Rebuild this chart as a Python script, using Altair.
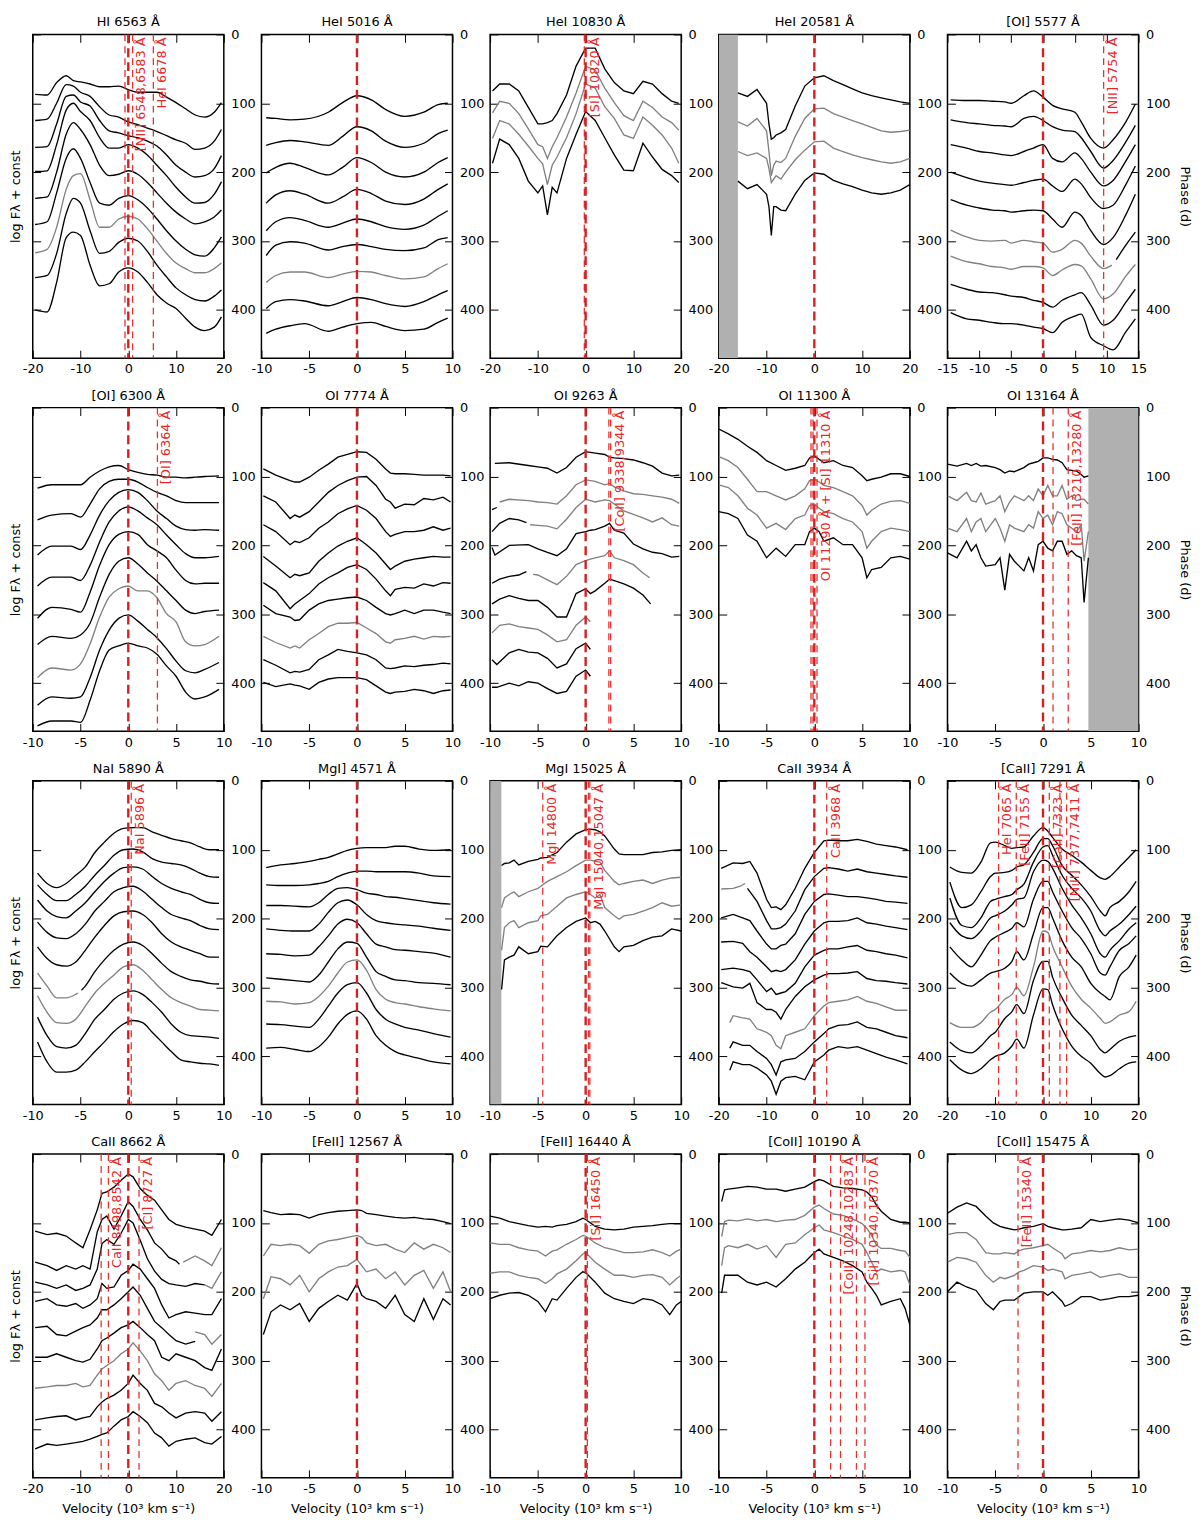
import altair as alt
import pandas as pd

K = "black"
G = "gray"
FONT = "DejaVu Sans"
MAIN_RED = "#d42020"
AUX_RED = "#e83030"
LAB_RED = "#e82828"
SHADE = "#b0b0b0"

TITLES = ["HI 6563 Å", "HeI 5016 Å", "HeI 10830 Å", "HeI 20581 Å", "[OI] 5577 Å",
          "[OI] 6300 Å", "OI 7774 Å", "OI 9263 Å", "OI 11300 Å", "OI 13164 Å",
          "NaI 5890 Å", "MgI] 4571 Å", "MgI 15025 Å", "CaII 3934 Å", "[CaII] 7291 Å",
          "CaII 8662 Å", "[FeII] 12567 Å", "[FeII] 16440 Å", "[CoII] 10190 Å", "[CoII] 15475 Å"]
XRANGES = [20, 10, 20, 20, 15, 10, 10, 10, 10, 10, 10, 10, 10, 20, 20, 20, 10, 10, 10, 10]
XTICKS = {20: [-20, -10, 0, 10, 20], 15: [-15, -10, -5, 0, 5, 10, 15], 10: [-10, -5, 0, 5, 10]}
PHASE_TICKS = [0, 100, 200, 300, 400]
AUX = [[-0.69, 0.91, 5.25], [], [-0.28], [], [9.52],
       [3.05], [], [2.43, 2.62], [-0.35, -0.14, 0.28], [1.05, 2.64],
       [0.31], [], [-4.49, 0.30, 0.44], [2.59], [-9.30, -5.60, 1.32, 3.54, 4.94],
       [-5.68, -4.16, 2.25], [], [0.18], [1.71, 2.74, 4.41, 5.30], [-2.62]]
LABEL_TEXT = [["[NII] 6548,6583 Å", "HeI 6678 Å"], [], ["[SI] 10820 Å"], [], ["[NII] 5754 Å"],
              ["[OI] 6364 Å"], [], ["[CoII] 9338,9344 Å"], ["OI 11290 Å + [SI] 11310 Å"], ["[FeII] 13210,13280 Å"],
              ["NaI 5896 Å"], [], ["MgI 14800 Å", "MgI 15040,15047 Å"], ["CaII 3968 Å"],
              ["HeI 7065 Å", "[FeII] 7155 Å", "[CaII] 7323 Å", "[NiII] 7377,7411 Å"],
              ["CaII 8498,8542 Å", "[CI] 8727 Å"], [], ["[SiI] 16450 Å"],
              ["[CoII] 10248,10283 Å", "[SiI] 10340,10370 Å"], ["[FeII] 15340 Å"]]
LABEL_X = [[0.91, 5.25], [], [0.0], [], [9.52], [3.05], [], [2.62], [0.28], [2.64],
           [0.31], [], [-4.49, 0.44], [2.59], [-9.30, -5.60, 1.32, 4.94],
           [-4.16, 2.25], [], [0.18], [2.74, 5.30], [-2.62]]
SHADES = {3: (-20, -16), 9: (4.75, 10), 12: (-10, -8.82)}
SMOOTH = {0, 1, 4, 5, 10, 11, 14}

# ---------------- spectra (phase units) ----------------
P01_x = [-19.5, -17, -15, -13, -11.5, -10, -8, -6, -4, -2, 0, 2, 4, 6, 8, 10, 12, 14, 16, 18, 19.5]
P01 = [(K, [87, 88, 70, 60, 67, 69, 72, 76, 76, 75, 80, 84, 84, 84, 91, 99, 108, 117, 120, 113, 99]),
       (K, [125, 123, 100, 73, 75, 84, 90, 105, 117, 120, 127, 131, 136, 141, 147, 153, 158, 167, 165, 155, 138]),
       (K, [164, 163, 130, 90, 88, 98, 104, 125, 140, 143, 147, 150, 155, 162, 175, 190, 200, 207, 205, 195, 176]),
       (K, [199, 198, 160, 110, 100, 112, 125, 150, 165, 165, 160, 165, 175, 190, 205, 222, 236, 245, 244, 232, 214]),
       (K, [238, 236, 200, 145, 128, 138, 160, 190, 205, 203, 198, 203, 215, 230, 245, 258, 268, 275, 272, 265, 255]),
       (K, [276, 272, 230, 180, 166, 180, 215, 245, 248, 238, 234, 240, 252, 268, 285, 300, 312, 320, 322, 310, 294]),
       (G, [317, 312, 280, 225, 205, 202, 240, 280, 280, 268, 264, 268, 282, 300, 318, 332, 340, 346, 346, 340, 332]),
       (K, [353, 350, 318, 260, 238, 245, 285, 318, 315, 302, 296, 300, 315, 335, 352, 368, 378, 385, 387, 380, 371]),
       (K, [400, 403, 360, 295, 287, 292, 335, 365, 362, 345, 339, 345, 360, 378, 390, 398, 412, 425, 430, 425, 410])]

P02_x = [-9.5, -8.5, -7, -5.5, -3, -1.5, 0, 1.5, 3, 5, 7, 8.5, 9.5]
P02 = [(K, [121, 122, 124, 123, 113, 99, 89, 95, 109, 119, 113, 102, 100]),
       (K, [161, 157, 154, 156, 161, 148, 134, 140, 155, 164, 158, 144, 139]),
       (K, [201, 193, 187, 193, 204, 193, 179, 186, 200, 207, 200, 186, 179]),
       (K, [245, 233, 227, 232, 245, 236, 225, 231, 242, 247, 239, 225, 217]),
       (K, [285, 272, 266, 270, 280, 274, 268, 272, 279, 283, 277, 264, 256]),
       (K, [321, 306, 301, 303, 313, 308, 305, 308, 312, 314, 310, 298, 295]),
       (G, [360, 350, 345, 345, 353, 348, 344, 345, 350, 355, 352, 340, 333]),
       (K, [398, 388, 385, 387, 394, 388, 382, 385, 391, 395, 388, 378, 372]),
       (K, [434, 428, 423, 420, 431, 425, 420, 418, 424, 430, 428, 418, 412])]

P03_x = [-19.5, -18, -16, -14, -12, -10, -9, -8, -7, -6, -4, -2, 0, 2, 4, 6, 8, 10, 12, 14, 16, 18, 19.5]
P03 = [(K, [82, 72, 72, 82, 106, 130, 130, 128, 125, 115, 88, 46, 20, 20, 50, 70, 82, 86, 68, 72, 86, 97, 100]),
       (G, [114, 97, 100, 115, 137, 160, 163, 180, 163, 150, 120, 85, 46, 52, 78, 99, 118, 125, 97, 106, 120, 128, 139]),
       (G, [151, 125, 130, 145, 162, 180, 188, 218, 190, 178, 150, 115, 72, 78, 105, 122, 146, 151, 120, 132, 146, 165, 187]),
       (K, [187, 152, 160, 180, 213, 230, 220, 262, 222, 230, 180, 145, 112, 125, 150, 175, 197, 198, 158, 178, 196, 205, 215])]

P04_x = [-16, -14, -12, -10, -9.5, -9, -8.5, -8, -7, -6, -4, -2, 0, 2, 4, 6, 8, 10, 12, 14, 16, 18, 20]
P04 = [(K, [85, 90, 80, 100, 130, 152, 150, 146, 143, 138, 104, 75, 63, 60, 67, 73, 79, 85, 89, 92, 95, 98, 100]),
       (G, [127, 133, 122, 140, 170, 205, 190, 184, 186, 180, 148, 122, 108, 107, 115, 120, 125, 130, 135, 140, 142, 141, 139]),
       (G, [170, 176, 172, 180, 195, 215, 210, 205, 210, 200, 182, 168, 156, 155, 165, 170, 175, 179, 182, 185, 187, 185, 180]),
       (K, [213, 224, 218, 232, 250, 292, 250, 250, 255, 256, 232, 212, 201, 203, 212, 217, 221, 226, 230, 232, 230, 226, 218])]

P05_x = [-14.5, -12, -10, -8, -6, -5, -3, -1.5, 0, 1.5, 3, 5, 6, 7.5, 9.5, 11, 13, 14.5]
P05 = [(K, [95, 96, 96, 97, 98, 100, 89, 82, 91, 103, 108, 113, 127, 151, 165, 153, 127, 101]),
       (K, [124, 128, 130, 132, 133, 134, 122, 119, 125, 134, 139, 141, 150, 170, 194, 183, 156, 132]),
       (K, [160, 165, 170, 172, 175, 176, 170, 165, 160, 180, 185, 172, 180, 200, 220, 212, 184, 160]),
       (K, [200, 208, 213, 216, 218, 219, 215, 212, 210, 220, 228, 210, 217, 237, 253, 248, 218, 191]),
       (K, [240, 248, 252, 255, 256, 258, 256, 255, 256, 268, 280, 258, 263, 285, 305, 295, 262, 232]),
       (G, [284, 294, 299, 300, 299, 303, 299, 301, 303, 316, 312, 299, 303, 322, 340, 335],
        [-14.5, -12, -10, -8, -6, -5, -3, -1.5, 0, 1.5, 3, 5, 6, 7.5, 9.5, 10.8]),
       (K, [327, 306, 287], [11.5, 13, 14.5]),
       (G, [322, 330, 333, 337, 339, 341, 337, 337, 339, 350, 342, 334, 336, 355, 384, 377, 351, 334]),
       (K, [363, 370, 374, 375, 378, 380, 382, 386, 389, 396, 386, 378, 375, 393, 422, 415, 389, 370]),
       (K, [404, 413, 415, 418, 420, 420, 422, 425, 427, 433, 418, 409, 406, 440, 452, 458, 432, 413])]

P06_x = [-9.5, -8, -6, -5, -4, -3, -2, -1, 0, 1, 2, 3, 4, 5, 6, 7, 8, 9.5]
P06 = [(K, [117, 112, 112, 112, 101, 92, 86, 84, 90, 94, 97, 98, 101, 101, 102, 101, 100, 99]),
       (K, [163, 156, 154, 159, 140, 118, 107, 104, 104, 108, 116, 123, 128, 135, 138, 138, 138, 138]),
       (K, [214, 201, 201, 206, 185, 156, 135, 123, 119, 123, 135, 150, 161, 172, 177, 178, 177, 178]),
       (K, [259, 246, 246, 251, 229, 195, 166, 150, 144, 150, 160, 170, 185, 199, 212, 218, 218, 216]),
       (K, [306, 290, 293, 297, 268, 229, 199, 184, 180, 184, 199, 208, 218, 236, 251, 256, 255, 255]),
       (K, [344, 332, 335, 330, 313, 275, 242, 223, 218, 227, 240, 252, 266, 280, 294, 299, 296, 294]),
       (G, [392, 378, 381, 372, 343, 304, 275, 263, 259, 266, 266, 276, 299, 311, 340, 346, 344, 332]),
       (K, [432, 420, 422, 420, 392, 352, 323, 306, 301, 310, 322, 334, 350, 368, 382, 385, 380, 370]),
       (K, [462, 455, 455, 457, 425, 382, 352, 346, 342, 346, 349, 358, 375, 390, 413, 423, 420, 409])]

P07_x = [-9.8, -8.5, -7, -6.5, -6, -5, -4, -3, -2, -1, 0, 1, 2, 3, 3.5, 4, 5, 6, 7, 8, 9, 9.8]
P07 = [(K, [89, 98, 106, 108, 108, 101, 91, 82, 72, 68, 64, 65, 75, 89, 95, 96, 96, 97, 98, 98, 98, 99]),
       (K, [128, 137, 161, 156, 159, 151, 137, 123, 113, 106, 101, 100, 113, 133, 137, 146, 140, 141, 132, 134, 130, 137]),
       (K, [170, 180, 199, 194, 196, 189, 175, 166, 154, 147, 142, 149, 161, 180, 187, 184, 180, 180, 178, 173, 178, 175]),
       (K, [216, 230, 247, 242, 244, 240, 223, 211, 201, 194, 189, 199, 211, 227, 235, 230, 223, 220, 218, 216, 217, 217]),
       (K, [254, 266, 292, 285, 280, 270, 256, 247, 240, 232, 228, 235, 249, 266, 273, 264, 261, 262, 256, 259, 254, 255]),
       (K, [287, 299, 304, 309, 308, 294, 285, 280, 278, 276, 275, 280, 290, 299, 301, 299, 294, 299, 294, 294, 297, 299]),
       (G, [332, 341, 349, 346, 349, 337, 328, 318, 313, 313, 312, 320, 328, 340, 342, 337, 335, 332, 336, 332, 333, 332]),
       (K, [366, 374, 385, 383, 384, 380, 366, 359, 351, 354, 356, 359, 366, 378, 379, 378, 375, 376, 374, 373, 371, 372]),
       (K, [399, 405, 401, 403, 404, 409, 399, 394, 392, 392, 392, 395, 404, 413, 415, 413, 412, 409, 411, 415, 411, 410])]

P08_x = [-9.5, -8, -6, -5, -4, -3, -2, -1, 0, 0.5, 1, 2, 2.5, 3, 4, 5, 6, 7, 8, 9, 9.8]
P08 = [(K, [81, 80, 84, 86, 88, 95, 87, 72, 64, 65, 66, 68, 72, 73, 74, 76, 80, 85, 95, 99, 98]),
       (K, [148, 145], [-9.8, -9.3]),
       (G, [137, 133, 135, 137, 138, 140, 128, 112, 105, 106, 107, 112, 110, 115, 121, 125, 126, 128, 130, 133, 139],
        [-9, -8, -6, -5, -4, -3, -2, -1, 0, 0.5, 1, 2, 2.5, 3, 4, 5, 6, 7, 8, 9, 9.8]),
       (K, [180, 168, 161, 163, 167], [-9.8, -9, -8, -7, -6.2]),
       (G, [170, 171, 172, 176, 162, 145, 133, 135, 137, 134, 135, 140, 150, 155, 160, 166, 160, 170, 172],
        [-5.8, -5, -4, -3, -2, -1, 0, 0.5, 1, 2, 2.5, 3, 4, 5, 6, 7, 8, 9, 9.8]),
       (K, [203, 214, 200, 199, 205, 210, 215, 205, 183, 180, 178, 177, 172, 168, 178, 182, 198, 205, 210, 212, 217, 216],
        [-9.8, -9.5, -8, -6, -5, -4, -3, -2, -1, 0, 0.5, 1, 2, 2.5, 3, 4, 5, 6, 7, 8, 9, 9.8]),
       (K, [255, 249, 245, 243, 238], [-9.8, -9, -8, -7, -6.2]),
       (G, [242, 243, 250, 257, 245, 228, 222, 220, 218, 215, 208, 218, 222, 228, 240, 247],
        [-5.5, -5, -4, -3, -2, -1, 0, 0.5, 1, 2, 2.5, 3, 4, 5, 6, 6.7]),
       (K, [285, 278, 273, 277, 280, 280, 290, 304, 304, 270, 263, 270, 266, 255, 249, 251, 256, 262, 272, 285],
        [-9.8, -9, -8, -7, -6, -5, -4, -3, -2, -1, 0, 0.5, 1, 2, 2.5, 3, 4, 5, 6, 6.8]),
       (G, [327, 316, 314, 318, 320, 322, 330, 340, 337, 316, 304, 311],
        [-9.8, -9, -8, -7, -6, -5, -4, -3, -2, -1, 0, 0.5]),
       (K, [366, 373, 356, 351, 355, 356, 364, 378, 372, 350, 342, 351],
        [-9.8, -9.3, -8, -7, -6, -5, -4, -3, -2, -1, 0, 0.5]),
       (K, [406, 406, 400, 404, 398, 400, 408, 415, 412, 390, 381, 390],
        [-9.8, -9.3, -8, -7, -6, -5, -4, -3, -2, -1, 0, 0.5])]

P09_x = [-10, -9, -8, -7, -6, -5, -4, -3, -2, -1, -0.5, 0, 0.5, 1, 2, 3, 4, 5, 5.5, 6, 7, 8, 9, 10]
P09 = [(K, [31, 38, 46, 56, 65, 77, 84, 91, 88, 84, 73, 70, 75, 80, 77, 84, 87, 99, 106, 104, 101, 96, 96, 100]),
       (G, [71, 77, 87, 104, 122, 122, 128, 134, 128, 118, 106, 104, 108, 113, 116, 122, 128, 142, 156, 149, 140, 136, 135, 139]),
       (G, [112, 116, 128, 146, 156, 175, 168, 177, 161, 156, 142, 140, 146, 151, 154, 161, 166, 180, 204, 194, 180, 175, 177, 180]),
       (K, [151, 154, 161, 185, 194, 218, 204, 216, 199, 199, 180, 175, 180, 194, 189, 199, 199, 218, 247, 235, 232, 218, 216, 220])]

P10_x = [-10, -9, -8, -7.5, -7, -6.5, -6, -5, -4.5, -4, -3.5, -3, -2, -1.5, -1, -0.5, 0, 0.5, 1, 1.5, 2, 2.5, 3, 3.5, 4, 4.3, 4.75]
P10 = [(K, [82, 85, 81, 84, 81, 85, 84, 87, 90, 95, 92, 93, 87, 82, 80, 78, 73, 73, 75, 76, 80, 90, 91, 92, 97, 101, 99]),
       (G, [128, 135, 123, 135, 137, 124, 140, 135, 128, 151, 137, 128, 135, 128, 135, 118, 128, 113, 128, 128, 113, 133, 128, 135, 133, 133, 140]),
       (G, [175, 180, 161, 180, 166, 161, 180, 161, 175, 194, 170, 175, 180, 170, 175, 151, 161, 156, 170, 151, 154, 170, 175, 180, 170, 223, 180]),
       (K, [211, 218, 194, 208, 199, 218, 230, 228, 218, 265, 213, 223, 237, 218, 237, 199, 194, 204, 208, 194, 194, 213, 208, 215, 218, 283, 218])]

P11_x = [-9.5, -8.5, -7.5, -6.5, -5.5, -4.5, -3.5, -2.5, -1.5, -0.5, 0.5, 1.5, 2.5, 3.5, 4.5, 5.5, 6.5, 7.5, 8.5, 9.5]
P11 = [(K, [134, 149, 155, 149, 137, 125, 104, 89, 76, 69, 68, 68, 74, 79, 84, 87, 90, 96, 100, 100]),
       (K, [151, 165, 174, 174, 165, 153, 137, 123, 108, 100, 99, 103, 113, 118, 120, 122, 127, 134, 139, 140]),
       (K, [173, 189, 197, 199, 189, 177, 161, 146, 134, 126, 125, 128, 139, 149, 156, 161, 165, 172, 177, 178]),
       (K, [205, 220, 228, 229, 222, 208, 189, 175, 161, 155, 153, 160, 172, 184, 194, 199, 203, 210, 215, 216]),
       (K, [241, 258, 267, 269, 263, 246, 227, 210, 196, 190, 189, 194, 206, 222, 234, 241, 246, 251, 256, 256]),
       (G, [279, 298, 315, 315, 310, 308], [-9.5, -8.5, -7.5, -6.5, -5.5, -5.25]),
       (K, [304, 298, 277, 260, 246, 237, 234, 239, 251, 265, 277, 284, 289, 291, 294, 295],
        [-4.9, -4.5, -3.5, -2.5, -1.5, -0.5, 0.5, 1.5, 2.5, 3.5, 4.5, 5.5, 6.5, 7.5, 8.5, 9.5]),
       (G, [312, 336, 351, 352, 346, 327, 308, 294, 282, 270, 267, 275, 289, 303, 315, 322, 327, 332, 333, 334]),
       (K, [343, 370, 386, 388, 384, 367, 346, 332, 317, 308, 305, 310, 322, 336, 353, 365, 370, 371, 372, 374]),
       (K, [379, 408, 423, 423, 420, 408, 393, 379, 364, 353, 348, 351, 365, 379, 393, 405, 408, 410, 411, 413])]

P12_x = [-9.5, -8, -6.5, -5, -4, -3, -2, -1, 0, 1, 2, 3, 4, 5, 6.5, 8, 9.8]
P12 = [(K, [126, 122, 120, 117, 114, 111, 106, 101, 98, 97, 97, 97, 95, 95, 99, 101, 100]),
       (K, [151, 152, 152, 151, 149, 146, 139, 134, 131, 131, 132, 132, 132, 132, 134, 138, 139]),
       (K, [181, 181, 182, 183, 177, 165, 156, 155, 158, 163, 165, 168, 169, 171, 174, 177, 179]),
       (K, [215, 217, 218, 218, 208, 191, 177, 173, 180, 194, 203, 206, 208, 209, 211, 214, 217]),
       (K, [251, 252, 254, 253, 241, 225, 208, 201, 206, 222, 237, 241, 245, 246, 248, 250, 256]),
       (K, [286, 288, 290, 292, 282, 263, 244, 234, 236, 256, 277, 284, 289, 290, 293, 294, 296]),
       (G, [320, 321, 324, 322, 313, 298, 279, 263, 260, 275, 303, 317, 322, 324, 328, 331, 334]),
       (K, [353, 354, 356, 358, 346, 327, 308, 296, 293, 308, 332, 346, 353, 358, 362, 367, 372]),
       (K, [388, 387, 390, 393, 386, 372, 353, 339, 334, 346, 370, 384, 393, 398, 403, 408, 411])]

P13_x = [-8.8, -8.5, -8, -7.5, -7, -6, -5, -4.7, -4, -3, -2, -1, 0, 0.5, 1, 1.5, 2, 3, 3.5, 4, 5, 6, 7, 8, 9, 10]
P13 = [(K, [123, 120, 119, 115, 122, 117, 114, 112, 111, 104, 89, 77, 71, 70, 71, 74, 80, 99, 106, 107, 107, 107, 104, 103, 101, 100]),
       (G, [184, 170, 165, 161, 168, 161, 156, 153, 146, 139, 132, 123, 115, 115, 117, 118, 130, 146, 151, 149, 146, 144, 149, 144, 141, 140]),
       (G, [246, 213, 206, 203, 213, 206, 203, 196, 194, 182, 170, 165, 161, 165, 170, 165, 184, 196, 201, 196, 194, 189, 184, 177, 182, 180]),
       (K, [303, 260, 256, 253, 241, 251, 248, 240, 241, 225, 213, 204, 199, 206, 204, 208, 218, 241, 248, 241, 239, 232, 227, 225, 215, 218])]

P14_x = [-19.5, -17, -15, -13.5, -12, -10, -9, -8, -7, -6, -4, -2, 0, 2, 3, 5, 7, 9, 11, 13, 15, 17, 19.5]
P14_xb = [-17.7, -17, -15, -13.5, -12, -10, -9, -8, -7, -6, -4, -2, 0, 2, 3, 5, 7, 9, 11, 13, 15, 17, 19.5]
P14 = [(K, [127, 119, 120, 117, 134, 172, 184, 183, 187, 180, 156, 127, 104, 87, 86, 87, 87, 85, 88, 92, 94, 96, 100]),
       (G, [157, 156, 153, 149], [-19.5, -17, -15.5, -14.5]),
       (K, [156, 175, 203, 215, 215, 213, 208, 189, 158, 139, 127, 126, 128, 131, 128, 132, 134, 136, 138, 140],
        [-14, -12, -10, -9, -8, -7, -6, -4, -2, 0, 2, 3, 5, 7, 9, 11, 13, 15, 17, 19.5]),
       (K, [199, 194, 199, 203, 218, 237, 244, 244, 239, 237, 222, 194, 175, 165, 164, 166, 168, 168, 170, 172, 175, 176, 178]),
       (K, [234, 233, 236, 248, 256, 270, 277, 275, 277, 274, 260, 237, 218, 206, 204, 204, 203, 199, 206, 208, 211, 213, 216]),
       (K, [274, 272, 274, 277, 289, 306, 301, 310, 308, 306, 294, 270, 253, 246, 244, 244, 241, 239, 246, 248, 251, 253, 257]),
       (K, [293, 299, 301, 294, 322, 332, 332, 336, 346, 332, 313, 299, 289, 282, 280, 280, 279, 277, 287, 290, 291, 293, 295]),
       (G, [351, 341, 344, 346, 360, 365, 370, 384, 389, 370, 365, 360, 341, 327, 322, 320, 318, 313, 320, 323, 328, 333, 333], P14_xb),
       (K, [388, 379, 384, 384, 393, 403, 412, 427, 408, 405, 403, 393, 379, 367, 360, 355, 354, 350, 358, 360, 365, 370, 373], P14_xb),
       (K, [420, 408, 412, 412, 417, 427, 436, 455, 436, 431, 429, 434, 408, 398, 391, 386, 388, 386, 391, 396, 401, 405, 411], P14_xb)]

P15_x = [-19.5, -17, -15, -13, -11, -10, -8, -6.5, -5.5, -4, -2, 0, 1, 2, 4, 6, 8, 10, 12, 13, 14, 16, 18, 19.5]
P15 = [(K, [125, 133, 134, 118, 90, 89, 94, 98, 97, 96, 80, 68, 73, 82, 99, 108, 118, 130, 141, 143, 139, 125, 111, 100]),
       (K, [147, 184, 180, 161, 139, 134, 133, 130, 125, 122, 104, 84, 84, 94, 123, 137, 151, 168, 189, 196, 184, 175, 161, 146]),
       (K, [170, 210, 213, 199, 175, 172, 168, 165, 158, 150, 118, 96, 94, 108, 137, 156, 170, 189, 218, 225, 218, 208, 194, 182]),
       (K, [206, 225, 229, 218, 199, 196, 189, 180, 172, 170, 132, 115, 117, 127, 156, 180, 199, 222, 251, 256, 246, 232, 215, 206]),
       (K, [241, 260, 270, 253, 232, 227, 220, 214, 206, 212, 172, 146, 146, 161, 189, 213, 229, 251, 279, 282, 270, 246, 236, 225]),
       (K, [279, 294, 298, 289, 279, 277, 272, 262, 248, 260, 222, 184, 184, 199, 232, 256, 270, 294, 308, 313, 318, 284, 270, 253]),
       (G, [351, 358, 358, 351, 336, 332, 317, 310, 300, 312, 270, 218, 220, 240, 270, 298, 317, 330, 345, 352, 350, 340, 335, 320]),
       (K, [379, 392, 395, 385, 370, 365, 345, 335, 325, 338, 290, 262, 262, 285, 315, 340, 355, 370, 390, 395, 390, 378, 372, 370]),
       (K, [405, 420, 425, 418, 405, 400, 395, 385, 375, 388, 340, 302, 303, 325, 360, 385, 400, 410, 425, 430, 428, 418, 410, 408])]

P16_x = [-19.5, -17, -15, -13, -11, -9.5, -8, -6.5, -5.5, -4.5, -3, -1.5, 0, 1, 2.5, 4, 5.5, 7, 8.5, 10, 12, 14, 16, 17.5, 19.5]
P16 = [(K, [112, 117, 115, 119, 129, 136, 110, 81, 57, 55, 48, 38, 29, 33, 50, 60, 67, 81, 95, 102, 106, 109, 112, 118, 95]),
       (K, [157, 162, 169, 162, 167, 162, 167, 113, 95, 90, 109, 90, 69, 76, 95, 110, 129, 138, 150, 155, 160],
        [-19.5, -17, -15, -13, -11, -9.5, -8, -6.5, -5.5, -4.5, -3, -1.5, 0, 1, 2.5, 4, 5.5, 7, 8.5, 10, 10.7]),
       (G, [157, 155, 148, 155, 162, 136], [11.5, 12, 14, 16, 17.5, 19.5]),
       (K, [186, 190, 195, 190, 198, 195, 190, 167, 130, 124, 131, 115, 95, 100, 125, 152, 170, 182, 188, 190, 192, 188, 190],
        [-19.5, -17, -15, -13, -11, -9.5, -8, -6.5, -5.5, -4.5, -3, -1.5, 0, 1, 2.5, 4, 5.5, 7, 8.5, 10, 12, 14, 16]),
       (G, [190, 195, 171], [16, 17.5, 19.5]),
       (K, [214, 210, 219, 221, 217, 224, 219, 210, 188, 195, 193, 176, 169, 160, 167, 181, 195, 219, 238, 233, 229, 231, 233, 233, 210]),
       (K, [252, 250, 262, 264, 257, 252, 248, 238, 226, 226, 219, 210, 200, 193, 205, 224, 243, 252, 262, 271, 276, 272],
        [-19.5, -17, -15, -13, -11, -9.5, -8, -6.5, -5.5, -4.5, -3, -1.5, 0, 1, 2.5, 4, 5.5, 7, 8.5, 10, 12, 14]),
       (G, [258, 262, 276, 262], [14, 16, 17.5, 19.5]),
       (K, [295, 295, 290, 295, 300, 302, 298, 283, 271, 267, 260, 252, 248, 243, 252, 262, 271, 295, 300, 290, 295, 300, 310, 314, 283]),
       (G, [340, 338, 336, 336, 333, 338, 336, 321, 312, 307, 300, 290, 283, 274, 286, 300, 319, 329, 343, 333, 329, 336, 340, 352, 333]),
       (K, [386, 383, 381, 380, 386, 383, 381, 367, 360, 355, 350, 343, 333, 321, 333, 343, 362, 367, 376, 383, 376, 374, 376, 388, 374]),
       (K, [428, 421, 423, 421, 419, 417, 414, 410, 407, 405, 395, 386, 381, 374, 381, 390, 405, 412, 424, 417, 414, 412, 419, 421, 410])]

P17_x = [-9.8, -9, -8, -7, -6, -5, -4, -3, -2, -1, 0, 0.5, 1, 2, 3, 4, 5, 6, 7, 8, 9, 9.8]
P17 = [(K, [82, 85, 88, 87, 88, 93, 88, 85, 83, 82, 81, 82, 86, 88, 90, 92, 93, 92, 94, 95, 98, 101]),
       (G, [148, 131, 133, 131, 133, 144, 131, 126, 124, 121, 118, 121, 129, 133, 131, 138, 143, 129, 138, 131, 136, 143]),
       (G, [210, 178, 181, 190, 176, 200, 181, 171, 164, 162, 153, 162, 171, 167, 181, 171, 190, 176, 169, 195, 171, 200]),
       (K, [262, 229, 219, 226, 217, 243, 224, 214, 205, 212, 188, 205, 210, 214, 224, 205, 233, 243, 210, 240, 210, 219])]

P18_x = [-10, -9, -8, -7, -6, -5, -4.2, -3.5, -3, -2, -1, -0.3, 0, 1, 2, 3, 4, 5, 6, 7, 8, 8.8, 9.5, 10]
P18 = [(K, [90, 93, 98, 101, 104, 106, 105, 106, 104, 102, 98, 93, 95, 105, 109, 110, 109, 106, 105, 104, 102, 101, 101, 101]),
       (G, [129, 131, 131, 136, 139, 141, 148, 141, 139, 131, 124, 118, 119, 129, 136, 139, 143, 143, 142, 139, 143, 148, 141, 138]),
       (G, [173, 171, 171, 176, 179, 181, 188, 181, 174, 167, 155, 145, 143, 157, 167, 176, 176, 179, 176, 175, 179, 190, 181, 176]),
       (K, [210, 205, 202, 201, 205, 214, 229, 210, 212, 195, 179, 171, 172, 186, 202, 210, 214, 217, 210, 212, 219, 233, 219, 214])]

P19_x = [-9.7, -9.4, -9, -8, -7, -6, -5, -4, -3, -2, -1, 0, 0.5, 1, 2, 3, 4, 5, 5.5, 6, 6.5, 7, 8, 9, 9.5, 10]
P19 = [(K, [69, 52, 51, 49, 47, 48, 51, 51, 54, 51, 48, 40, 37, 39, 47, 49, 50, 52, 55, 62, 74, 83, 95, 99, 99, 100]),
       (G, [120, 98, 96, 97, 94, 97, 95, 98, 96, 95, 89, 77, 74, 79, 87, 89, 94, 101, 108, 118, 132, 137, 137, 140, 141, 150]),
       (G, [162, 136, 133, 136, 131, 138, 133, 150, 131, 129, 117, 107, 103, 110, 114, 119, 124, 131, 143, 157, 171, 167, 171, 169, 171, 190]),
       (K, [202, 176, 176, 176, 186, 190, 186, 193, 181, 167, 157, 143, 138, 145, 150, 155, 162, 171, 186, 195, 205, 219, 214, 210, 224, 248])]

P20_x = [-10, -9, -8, -7, -6, -5.2, -4.5, -4, -3, -2.5, -2, -1, 0, 0.5, 1, 2, 2.3, 3, 4, 5, 6, 7, 8, 9, 10]
P20 = [(K, [86, 77, 71, 76, 90, 100, 105, 107, 110, 109, 107, 105, 101, 105, 107, 110, 110, 109, 107, 95, 98, 96, 94, 96, 100]),
       (G, [117, 114, 114, 124, 143, 145, 145, 143, 145, 140, 138, 136, 133, 131, 136, 145, 152, 145, 143, 140, 142, 140, 136, 139, 138]),
       (G, [157, 150, 152, 157, 176, 186, 179, 181, 176, 171, 169, 162, 164, 169, 167, 171, 181, 176, 174, 171, 179, 176, 174, 179, 179]),
       (K, [200, 186, 193, 198, 217, 226, 214, 212, 212, 207, 202, 200, 200, 205, 200, 214, 221, 217, 207, 207, 212, 210, 207, 207, 205])]

GRIDS = [P01_x, P02_x, P03_x, P04_x, P05_x, P06_x, P07_x, P08_x, P09_x, P10_x,
         P11_x, P12_x, P13_x, P14_x, P15_x, P16_x, P17_x, P18_x, P19_x, P20_x]
CURVES = [P01, P02, P03, P04, P05, P06, P07, P08, P09, P10,
          P11, P12, P13, P14, P15, P16, P17, P18, P19, P20]

XTITLE = "Velocity (10³  km s⁻¹)"
LTITLE = "log Fλ + const"
RTITLE = "Phase (d)"
W, H = 193, 327
TICK = 8


def make_panel(i):
    row, col = divmod(i, 5)
    xr = XRANGES[i]
    recs = []
    for ci, c in enumerate(CURVES[i]):
        xs = c[2] if len(c) > 2 else GRIDS[i]
        for x, y in zip(xs, c[1]):
            recs.append({"x": x, "y": y, "cid": ci, "col": c[0]})
    df = pd.DataFrame(recs)
    xs_ = alt.Scale(domain=[-xr, xr], nice=False, zero=False)
    ys_ = alt.Scale(domain=[0, 470], reverse=True, nice=False, zero=False)
    common = dict(offset=-TICK, tickSize=TICK, domain=False, grid=False, minExtent=0,
                  labelFlush=False, labelOverlap=False, tickColor="black", tickWidth=1)
    xaxis = alt.Axis(orient="bottom", values=XTICKS[xr], labelExpr="'' + datum.value",
                     labelPadding=5, title=XTITLE if row == 3 else None, titlePadding=7, **common)
    yaxis = alt.Axis(orient="right", values=PHASE_TICKS, labelPadding=7,
                     title=RTITLE if col == 4 else None, titlePadding=8, **common)
    layers = []
    if i in SHADES:
        a, b = SHADES[i]
        sdf = pd.DataFrame({"x": [a], "x2": [b], "y": [0], "y2": [470]})
        layers.append(alt.Chart(sdf).mark_rect(color=SHADE, clip=True).encode(
            x=alt.X("x:Q", scale=xs_, axis=None), x2="x2:Q",
            y=alt.Y("y:Q", scale=ys_, axis=None), y2="y2:Q"))
    layers.append(alt.Chart(df).mark_line(
        clip=True, strokeWidth=1.35, interpolate="monotone" if i in SMOOTH else "linear").encode(
        x=alt.X("x:Q", scale=xs_, axis=xaxis),
        y=alt.Y("y:Q", scale=ys_, axis=yaxis),
        detail="cid:N",
        color=alt.Color("col:N", scale=None)))
    ghost = pd.DataFrame({"x": [-xr], "y": [0]})
    layers.append(alt.Chart(ghost).mark_point(opacity=0, size=1).encode(
        x=alt.X("x:Q", scale=xs_, axis=alt.Axis(orient="top", values=XTICKS[xr], labels=False,
                                                   title=None, **common)),
        y=alt.Y("y:Q", scale=ys_, axis=alt.Axis(orient="left", values=PHASE_TICKS, labels=False,
                                                   title=LTITLE if col == 0 else None,
                                                   titlePadding=10, **common))))
    if AUX[i]:
        adf = pd.DataFrame({"x": AUX[i]})
        layers.append(alt.Chart(adf).mark_rule(color=AUX_RED, strokeWidth=1.3, strokeDash=[7, 5]).encode(
            x=alt.X("x:Q", scale=xs_, axis=None)))
    mdf = pd.DataFrame({"x": [0.0]})
    layers.append(alt.Chart(mdf).mark_rule(color=MAIN_RED, strokeWidth=2.4, strokeDash=[9, 5]).encode(
        x=alt.X("x:Q", scale=xs_, axis=None)))
    if LABEL_TEXT[i]:
        ldf = pd.DataFrame({"x": LABEL_X[i], "t": LABEL_TEXT[i], "y": [0] * len(LABEL_X[i])})
        layers.append(alt.Chart(ldf).mark_text(
            angle=270, align="right", baseline="top", dx=-3, dy=3, fontSize=13,
            color=LAB_RED, font=FONT).encode(
            x=alt.X("x:Q", scale=xs_, axis=None),
            y=alt.Y("y:Q", scale=ys_, axis=None),
            text="t:N"))
    return alt.layer(*layers).resolve_axis(x="independent", y="independent").properties(
        width=W, height=H, title=alt.TitleParams(TITLES[i]))


panels = [make_panel(i) for i in range(20)]
chart = alt.concat(*panels, columns=5, spacing={"row": 50, "column": 38}, bounds="flush").properties(
    padding={"left": 0, "right": 0, "top": 0, "bottom": 0}
).configure(font=FONT).configure_view(stroke="black", strokeWidth=1.5).configure_axis(
    labelFont=FONT, labelFontSize=13, labelColor="black", titleFont=FONT, titleFontSize=13,
    titleFontWeight="normal", titleColor="black"
).configure_title(font=FONT, fontSize=13, fontWeight="normal", offset=-1, color="black")

chart.save("out.html", embed_options={"renderer": "svg", "actions": False})
